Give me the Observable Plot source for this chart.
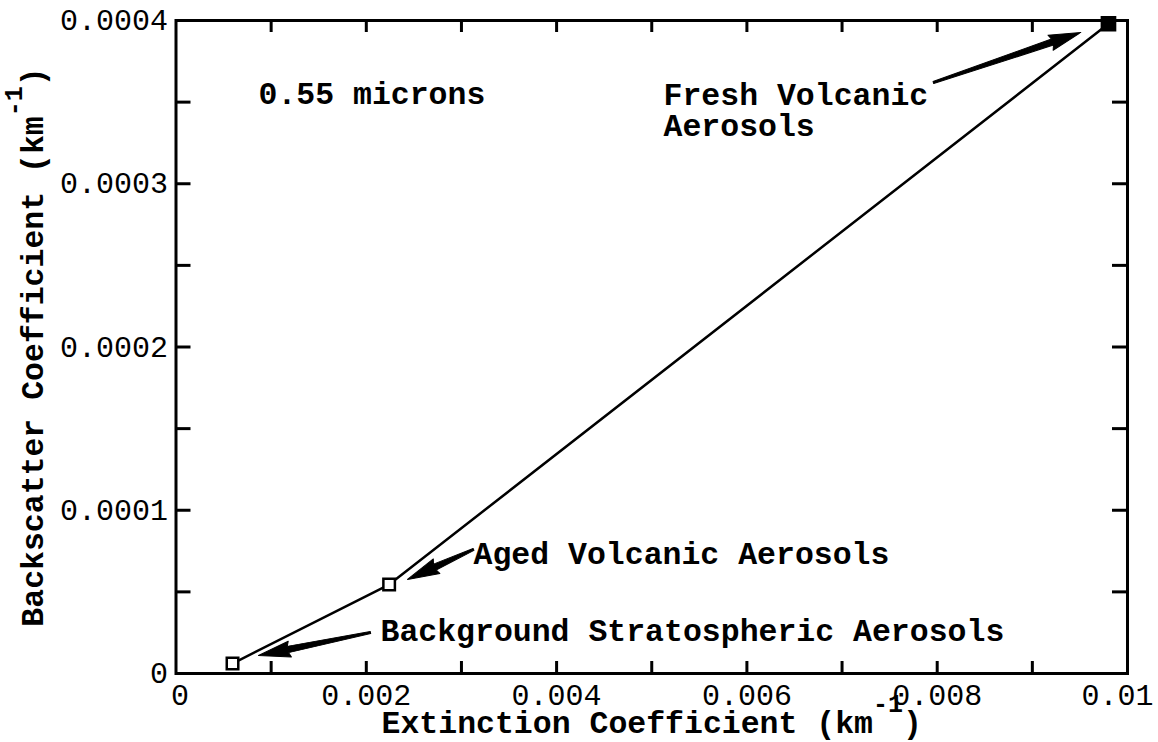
<!DOCTYPE html>
<html>
<head>
<meta charset="utf-8">
<script src="https://cdn.jsdelivr.net/npm/d3@7"></script>
<script src="https://cdn.jsdelivr.net/npm/@observablehq/plot@0.6"></script>
<style>
  body { margin: 0; background: #fff; }
</style>
</head>
<body>
<div id="chart"></div>
<script>
// Backscatter vs. extinction coefficient for three aerosol regimes at 0.55 microns
const aerosolNames = ["Background Stratospheric Aerosols", "Aged Volcanic Aerosols", "Fresh Volcanic Aerosols"];
const extinction = [0.000594, 0.00224, 0.0098];
const backscatter = [0.0000061, 0.0000545, 0.000398];
const filledMarker = [false, false, true];

// Axis ticks and labels
const xTickValues = [0, 0.002, 0.004, 0.006, 0.008, 0.01];
const xTickLabels = ["0", "0.002", "0.004", "0.006", "0.008", "0.01"];
const yTickValues = [0, 0.0001, 0.0002, 0.0003, 0.0004];
const yTickLabels = ["0", "0.0001", "0.0002", "0.0003", "0.0004"];
const xMinorTicks = [0.001, 0.002, 0.003, 0.004, 0.005, 0.006, 0.007, 0.008, 0.009];
const yMinorTicks = [0.00005, 0.0001, 0.00015, 0.0002, 0.00025, 0.0003, 0.00035];

const xTitle = "Extinction Coefficient (km-1)";
const yTitle = "Backscatter Coefficient (km-1)";

// Annotation text anchored in data space
const noteText = ["0.55 microns", "Fresh Volcanic\nAerosols", "Aged Volcanic Aerosols", "Background Stratospheric Aerosols"];
const noteX = [0.000867, 0.005124, 0.003127, 0.002149];
const noteY = [0.000355, 0.000345, 0.0000735, 0.0000263];

// Pointer arrows from the labels to the markers (tail -> tip)
const arrowX1 = [0.00796, 0.003127, 0.002044];
const arrowY1 = [0.000362, 0.000076, 0.0000251];
const arrowX2 = [0.00951, 0.002433, 0.000867];
const arrowY2 = [0.0003927, 0.0000576, 0.000011];

const W = 1158, H = 742;
const margin = {top: 20, right: 31, bottom: 69, left: 175.5};
const innerW = W - margin.left - margin.right;
const innerH = H - margin.top - margin.bottom;
const xDomain = [0, 0.01], yDomain = [0, 0.0004];
const tickLenX = 12, tickLenY = 15;

const points = aerosolNames.map((name, i) => ({name, x: extinction[i], y: backscatter[i], filled: filledMarker[i]}));
const notes = noteText.map((text, i) => ({text, x: noteX[i], y: noteY[i]}));

// pixel length and bearing of each pointer, for the vector mark
const pxPerX = innerW / (xDomain[1] - xDomain[0]);
const pxPerY = innerH / (yDomain[1] - yDomain[0]);
const arrows = arrowX1.map((x1, i) => {
  const dx = (arrowX2[i] - x1) * pxPerX;
  const dy = -(arrowY2[i] - arrowY1[i]) * pxPerY;
  return {x: x1, y: arrowY1[i], length: Math.hypot(dx, dy), angle: Math.atan2(dx, -dy) * 180 / Math.PI};
});

// Tapered shaft with a solid, slender head, drawn pointing up from the origin
const pointerShape = {
  draw(context, l) {
    const h = 30, w = 8, t0 = 1, t1 = 3.2;
    context.moveTo(-t0, 0);
    context.lineTo(-t1, -(l - h));
    context.lineTo(-w, -(l - h) + 2);
    context.lineTo(0, -l);
    context.lineTo(w, -(l - h) + 2);
    context.lineTo(t1, -(l - h));
    context.lineTo(t0, 0);
    context.closePath();
  }
};

const FONT = "'Liberation Mono', 'Courier New', 'DejaVu Sans Mono', monospace";
const fmtX = d => xTickLabels[xTickValues.indexOf(d)];
const fmtY = d => yTickLabels[yTickValues.indexOf(d)];

const chart = Plot.plot({
  width: W,
  height: H,
  marginTop: margin.top,
  marginRight: margin.right,
  marginBottom: margin.bottom,
  marginLeft: margin.left,
  style: {fontFamily: FONT, fontSize: "30px", background: "#fff", color: "#000"},
  x: {domain: xDomain, axis: null},
  y: {domain: yDomain, axis: null},
  length: {type: "identity"},
  marks: [
    // inward ticks on all four sides
    Plot.ruleX(xMinorTicks, {x: d => d, insetTop: innerH - tickLenX, strokeWidth: 3}),
    Plot.ruleX(xMinorTicks, {x: d => d, insetBottom: innerH - tickLenX, strokeWidth: 3}),
    Plot.ruleY(yMinorTicks, {y: d => d, insetRight: innerW - tickLenY, strokeWidth: 3}),
    Plot.ruleY(yMinorTicks, {y: d => d, insetLeft: innerW - tickLenY, strokeWidth: 3}),
    Plot.frame({strokeWidth: 3}),
    // tick labels
    Plot.axisX(xTickValues.slice(0, 1), {
      anchor: "bottom", tickSize: 0, tickPadding: 10, label: null, tickFormat: fmtX, fontSize: 30, dx: 4
    }),
    Plot.axisX(xTickValues.slice(1, -1), {
      anchor: "bottom", tickSize: 0, tickPadding: 10, label: null, tickFormat: fmtX, fontSize: 30
    }),
    Plot.axisX(xTickValues.slice(-1), {
      anchor: "bottom", tickSize: 0, tickPadding: 10, label: null, tickFormat: fmtX, fontSize: 30, dx: -10
    }),
    Plot.axisY(yTickValues, {
      anchor: "left", tickSize: 0, tickPadding: 8, label: null, tickFormat: fmtY, fontSize: 30
    }),
    // axis titles
    Plot.text([xTitle], {
      text: d => d, frameAnchor: "bottom", dy: 49, textAnchor: "middle", lineAnchor: "middle",
      fontSize: 31.5, fontWeight: "bold"
    }),
    Plot.text([yTitle], {
      text: d => d, frameAnchor: "left", dx: -143.5, rotate: -90, textAnchor: "middle", lineAnchor: "middle",
      fontSize: 31.5, fontWeight: "bold"
    }),
    // connecting line and markers
    Plot.line(points, {x: "x", y: "y", stroke: "#000", strokeWidth: 2.5}),
    Plot.dot(points.filter(d => !d.filled), {
      x: "x", y: "y", symbol: "square", r: 6.5, fill: "#fff", stroke: "#000", strokeWidth: 2.5
    }),
    Plot.dot(points.filter(d => d.filled), {
      x: "x", y: "y", symbol: "square", r: 8, fill: "#000", stroke: "#000", strokeWidth: 1.5
    }),
    // pointer arrows
    Plot.vector(arrows, {
      x: "x", y: "y", length: "length", rotate: "angle", anchor: "start",
      shape: pointerShape, fill: "#000", stroke: "#000", strokeWidth: 1
    }),
    // annotations
    Plot.text(notes, {
      x: "x", y: "y", text: "text", textAnchor: "start", lineAnchor: "middle",
      lineHeight: 1, fontSize: 31.5, fontWeight: "bold"
    })
  ]
});

// Raise the "-1" in the unit labels as a superscript
const SVGNS = "http://www.w3.org/2000/svg";
chart.querySelectorAll("text").forEach(t => {
  const s = t.textContent;
  if (s.endsWith("(km-1)") && t.querySelectorAll("tspan").length === 0) {
    t.textContent = s.slice(0, -3);
    const sup = document.createElementNS(SVGNS, "tspan");
    sup.setAttribute("dy", "-21");
    sup.setAttribute("font-size", "25");
    sup.textContent = "-1";
    const close = document.createElementNS(SVGNS, "tspan");
    close.setAttribute("dy", "21");
    close.textContent = ")";
    t.append(sup, close);
  }
});

document.getElementById("chart").append(chart);
</script>
</body>
</html>
